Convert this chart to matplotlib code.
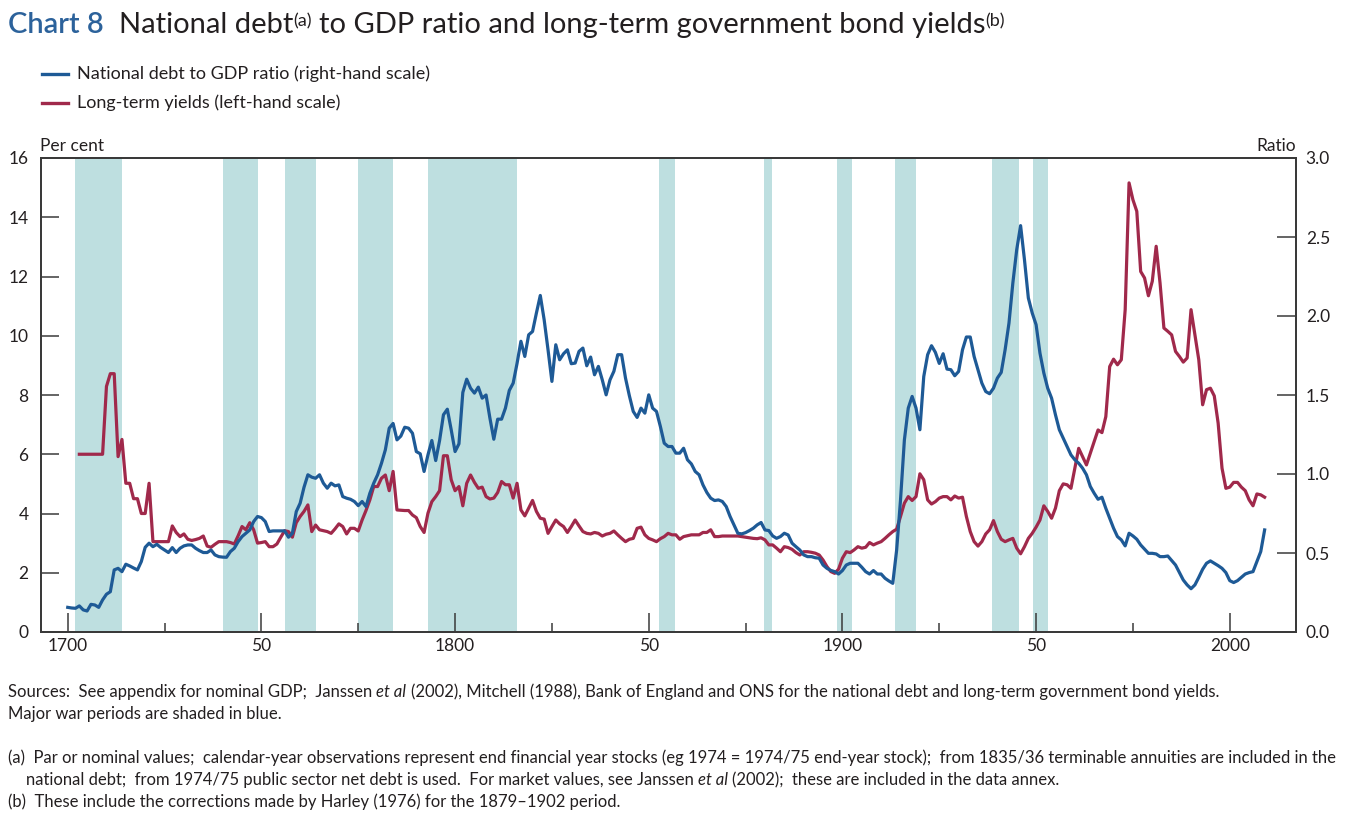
import matplotlib
matplotlib.use("Agg")
import matplotlib.pyplot as plt
import numpy as np
from matplotlib.lines import Line2D

plt.rcParams['font.family'] = ['Lato', 'DejaVu Sans']

# ---------------- data ----------------
debt_years = list(range(1700, 2010))
debt_ratio = [
    0.156, 0.152, 0.150, 0.165, 0.140, 0.133, 0.175, 0.171, 0.156, 0.203,
    0.239, 0.255, 0.393, 0.403, 0.382, 0.429, 0.418, 0.405, 0.393, 0.446,
    0.536, 0.562, 0.540, 0.555, 0.535, 0.519, 0.503, 0.534, 0.503, 0.530,
    0.545, 0.551, 0.551, 0.530, 0.515, 0.503, 0.503, 0.519, 0.488, 0.477,
    0.474, 0.473, 0.509, 0.530, 0.572, 0.604, 0.625, 0.646, 0.699, 0.731,
    0.724, 0.699, 0.636, 0.640, 0.640, 0.640, 0.640, 0.600, 0.625, 0.762,
    0.815, 0.916, 0.995, 0.980, 0.973, 0.995, 0.942, 0.910, 0.942, 0.925,
    0.931, 0.857, 0.847, 0.840, 0.826, 0.800, 0.826, 0.794, 0.878, 0.942,
    0.995, 1.068, 1.153, 1.290, 1.320, 1.216, 1.240, 1.296, 1.290, 1.258,
    1.142, 1.128, 1.016, 1.121, 1.212, 1.085, 1.212, 1.375, 1.410, 1.280,
    1.142, 1.191, 1.516, 1.600, 1.543, 1.512, 1.550, 1.480, 1.500, 1.353,
    1.220, 1.347, 1.347, 1.417, 1.529, 1.575, 1.700, 1.840, 1.744, 1.881,
    1.902, 2.019, 2.130, 1.976, 1.786, 1.586, 1.818, 1.723, 1.761, 1.786,
    1.698, 1.702, 1.776, 1.797, 1.685, 1.740, 1.628, 1.681, 1.596, 1.501,
    1.596, 1.650, 1.755, 1.755, 1.607, 1.495, 1.396, 1.358, 1.417, 1.385,
    1.501, 1.417, 1.396, 1.301, 1.195, 1.174, 1.174, 1.132, 1.132, 1.163,
    1.090, 1.064, 1.016, 0.995, 0.931, 0.883, 0.847, 0.832, 0.836, 0.826,
    0.794, 0.731, 0.678, 0.625, 0.621, 0.629, 0.642, 0.657, 0.678, 0.693,
    0.646, 0.642, 0.608, 0.593, 0.604, 0.625, 0.614, 0.562, 0.540, 0.519,
    0.488, 0.477, 0.477, 0.470, 0.467, 0.424, 0.403, 0.390, 0.382, 0.367,
    0.389, 0.424, 0.435, 0.435, 0.435, 0.410, 0.382, 0.367, 0.389, 0.367,
    0.367, 0.340, 0.323, 0.308, 0.519, 0.836, 1.216, 1.417, 1.491, 1.417,
    1.280, 1.617, 1.755, 1.812, 1.770, 1.700, 1.761, 1.664, 1.660, 1.622,
    1.649, 1.786, 1.867, 1.867, 1.744, 1.660, 1.575, 1.522, 1.508, 1.543,
    1.607, 1.643, 1.786, 1.955, 2.209, 2.420, 2.572, 2.356, 2.114, 2.019,
    1.945, 1.765, 1.639, 1.543, 1.480, 1.375, 1.280, 1.227, 1.174, 1.121,
    1.090, 1.068, 1.037, 0.995, 0.921, 0.878, 0.840, 0.853, 0.783, 0.720,
    0.657, 0.604, 0.583, 0.545, 0.625, 0.608, 0.587, 0.551, 0.524, 0.498,
    0.498, 0.494, 0.477, 0.477, 0.481, 0.452, 0.424, 0.376, 0.329, 0.298,
    0.274, 0.298, 0.346, 0.397, 0.435, 0.450, 0.435, 0.420, 0.403, 0.376,
    0.325, 0.313, 0.325, 0.346, 0.367, 0.376, 0.382, 0.446, 0.509, 0.646,
]

yield_years = list(range(1703, 2010))
yields = [
    6.00, 6.00, 6.00, 6.00, 6.00, 6.00, 6.00,
    8.29, 8.72, 8.72, 5.92, 6.50, 5.02, 5.02, 4.50, 4.50, 4.00,
    4.00, 5.02, 3.05, 3.05, 3.05, 3.05, 3.05, 3.58, 3.36, 3.22,
    3.31, 3.13, 3.09, 3.12, 3.16, 3.24, 2.90, 2.86, 2.96, 3.05,
    3.05, 3.05, 3.02, 2.97, 3.25, 3.56, 3.45, 3.69, 3.45, 3.00,
    3.02, 3.05, 2.88, 2.88, 2.97, 3.20, 3.42, 3.39, 3.20, 3.69,
    3.90, 4.07, 4.29, 3.39, 3.61, 3.45, 3.42, 3.39, 3.33, 3.48,
    3.65, 3.56, 3.31, 3.50, 3.50, 3.41, 3.78, 4.10, 4.46, 4.91,
    4.91, 5.19, 5.30, 4.77, 5.42, 4.12, 4.11, 4.10, 4.10, 3.95,
    3.86, 3.56, 3.36, 4.01, 4.40, 4.57, 4.77, 5.95, 5.95, 5.14,
    4.77, 4.91, 4.26, 5.02, 5.30, 5.05, 4.85, 4.89, 4.57, 4.49,
    4.52, 4.71, 5.08, 4.97, 4.97, 4.52, 5.02, 4.12, 3.92, 4.18,
    4.44, 4.07, 3.84, 3.81, 3.33, 3.56, 3.78, 3.65, 3.56, 3.36,
    3.56, 3.78, 3.58, 3.39, 3.33, 3.31, 3.36, 3.33, 3.24, 3.30,
    3.33, 3.41, 3.28, 3.16, 3.05, 3.13, 3.16, 3.50, 3.54, 3.28,
    3.16, 3.11, 3.05, 3.15, 3.22, 3.33, 3.28, 3.28, 3.13, 3.22,
    3.25, 3.28, 3.28, 3.28, 3.36, 3.36, 3.45, 3.22, 3.22, 3.24,
    3.24, 3.24, 3.24, 3.24, 3.22, 3.20, 3.18, 3.16, 3.15, 3.18,
    3.11, 2.94, 2.94, 2.83, 2.71, 2.88, 2.85, 2.79, 2.68, 2.60,
    2.71, 2.71, 2.69, 2.66, 2.60, 2.43, 2.21, 2.04, 1.98, 2.12,
    2.49, 2.71, 2.68, 2.77, 2.88, 2.83, 2.86, 3.02, 2.94, 3.00,
    3.05, 3.16, 3.28, 3.39, 3.47, 3.90, 4.35, 4.57, 4.44, 4.57,
    5.34, 5.14, 4.46, 4.32, 4.40, 4.52, 4.57, 4.57, 4.46, 4.59,
    4.52, 4.55, 3.90, 3.39, 3.05, 2.90, 3.05, 3.31, 3.45, 3.76,
    3.39, 3.13, 3.05, 3.11, 3.16, 2.83, 2.64, 2.88, 3.16, 3.33,
    3.54, 3.78, 4.26, 4.07, 3.84, 4.18, 4.77, 5.00, 4.97, 4.85,
    5.53, 6.20, 5.92, 5.64, 6.04, 6.43, 6.82, 6.73, 7.27, 8.96,
    9.21, 9.02, 9.19, 10.88, 15.16, 14.59, 14.20, 12.17, 11.95, 11.35,
    11.84, 13.02, 11.78, 10.26, 10.15, 10.03, 9.47, 9.30, 9.11, 9.25,
    10.88, 10.03, 9.19, 7.67, 8.18, 8.23, 7.97, 7.05, 5.53, 4.85,
    4.89, 5.05, 5.05, 4.89, 4.77, 4.46, 4.26, 4.66, 4.63, 4.55,
]

# major war periods (shaded)
war_start = [1702, 1740, 1756, 1775, 1793, 1852.6, 1879.7, 1898.6, 1913.6, 1938.6, 1949.3]
war_end = [1714, 1749, 1764, 1784, 1816, 1856.9, 1881.7, 1902.6, 1918.9, 1945.5, 1953.2]

x_ticks = [1700, 1750, 1800, 1850, 1900, 1950, 2000]
x_tick_labels = ['1700', '50', '1800', '50', '1900', '50', '2000']
x_minor_ticks = [1725, 1775, 1825, 1875, 1925, 1975]
left_ticks = [0, 2, 4, 6, 8, 10, 12, 14, 16]
right_ticks = [0.0, 0.5, 1.0, 1.5, 2.0, 2.5, 3.0]
right_tick_labels = ['0.0', '0.5', '1.0', '1.5', '2.0', '2.5', '3.0']

BLUE = '#1E5A96'
RED = '#A0294B'
SHADE = '#BEDFE0'
TITLE_BLUE = '#2C629B'
INK = '#231F20'
SPINE = '#3A3A3A'

# ---------------- figure ----------------
W, H = 1354, 826
fig = plt.figure(figsize=(W / 100, H / 100), dpi=100)
fig.patch.set_facecolor('white')
renderer = fig.canvas.get_renderer()

ax = fig.add_axes([41 / W, 1 - 632 / H, (1296 - 41) / W, (632 - 158) / H])
ax2 = ax.twinx()

ax.set_xlim(1693.1, 2017.1)
ax.set_ylim(0, 16)
ax2.set_ylim(0, 3)

for s, e in zip(war_start, war_end):
    ax.axvspan(s, e, color=SHADE, lw=0, zorder=0)

ax.plot(yield_years, yields, color=RED, lw=2.3, solid_joinstyle='round', zorder=3)
ax2.plot(debt_years, debt_ratio, color=BLUE, lw=2.3, solid_joinstyle='round', zorder=3)

ax.set_xticks(x_ticks)
ax.set_xticklabels(x_tick_labels)
ax.set_xticks(x_minor_ticks, minor=True)
ax.set_yticks(left_ticks)
ax2.set_yticks(right_ticks)
ax2.set_yticklabels(right_tick_labels)

ax.tick_params(axis='x', which='major', direction='in', length=13.5, width=1.1,
               color=SPINE, pad=4, labelsize=12.5, labelcolor=INK)
ax.tick_params(axis='x', which='minor', direction='in', length=6.5, width=1.1, color=SPINE)
ax.tick_params(axis='y', direction='in', length=13, width=1.1, color=SPINE,
               pad=9, labelsize=12.5, labelcolor=INK)
ax2.tick_params(axis='y', direction='in', length=14, width=1.1, color=SPINE,
                pad=7, labelsize=12.5, labelcolor=INK)

for a in (ax, ax2):
    for sp in a.spines.values():
        sp.set_color(SPINE)
        sp.set_linewidth(1.4)

fig.text(40 / W, 1 - 151 / H, 'Per cent', fontsize=12.5, color=INK, ha='left', va='baseline')
fig.text(1296 / W, 1 - 151 / H, 'Ratio', fontsize=12.5, color=INK, ha='right', va='baseline')


# ---------------- rich text helper ----------------
def text_w(s, **kw):
    t = fig.text(0, 0, s, **kw)
    w = t.get_window_extent(renderer).width
    t.remove()
    return w


def put_runs(x_px, base_px, parts):
    x = x_px
    for txt, opts in parts:
        opts = dict(opts)
        dy = opts.pop('dy', 0)
        sw = text_w('a a', **opts) - text_w('aa', **opts)
        n_lead = len(txt) - len(txt.lstrip(' '))
        n_trail = len(txt) - len(txt.rstrip(' '))
        x += n_lead * sw
        core = txt.strip(' ')
        t = fig.text(x / W, 1 - (base_px - dy) / H, core, va='baseline', ha='left', **opts)
        x = t.get_window_extent(renderer).x1
        x += n_trail * sw
    return x


# title
tsz = 21
sup = 13
put_runs(8, 33, [
    ('Chart 8', dict(fontsize=tsz, color=TITLE_BLUE, weight='semibold')),
    ('  National debt', dict(fontsize=tsz, color=INK)),
    ('(a)', dict(fontsize=sup, color=INK, dy=7)),
    (' to GDP ratio and long-term government bond yields', dict(fontsize=tsz, color=INK)),
    ('(b)', dict(fontsize=sup, color=INK, dy=7)),
])

# legend
for yy, col, lab in [(74, BLUE, 'National debt to GDP ratio (right-hand scale)'),
                     (103, RED, 'Long-term yields (left-hand scale)')]:
    fig.add_artist(Line2D([42 / W, 68 / W], [1 - yy / H, 1 - yy / H], color=col, lw=2.4,
                          transform=fig.transFigure))
    fig.text(77 / W, 1 - (yy + 5) / H, lab, fontsize=13, color=INK, va='baseline', ha='left')

# footnotes
fs = 12
n = dict(fontsize=fs, color=INK)
it = dict(fontsize=fs, color=INK, style='italic')
put_runs(8, 697, [('Sources:  See appendix for nominal GDP;  Janssen ', n), ('et al', it),
                  (' (2002), Mitchell (1988), Bank of England and ONS for the national debt and long-term government bond yields.', n)])
put_runs(8, 719, [('Major war periods are shaded in blue.', n)])
put_runs(8, 763, [('(a)  Par or nominal values;  calendar-year observations represent end financial year stocks (eg 1974 = 1974/75 end-year stock);  from 1835/36 terminable annuities are included in the', n)])
put_runs(26, 785, [('national debt;  from 1974/75 public sector net debt is used.  For market values, see Janssen ', n), ('et al', it),
                   (' (2002);  these are included in the data annex.', n)])
put_runs(8, 807, [('(b)  These include the corrections made by Harley (1976) for the 1879\u20131902 period.', n)])

fig.savefig('out.png', dpi=100, facecolor='white')
